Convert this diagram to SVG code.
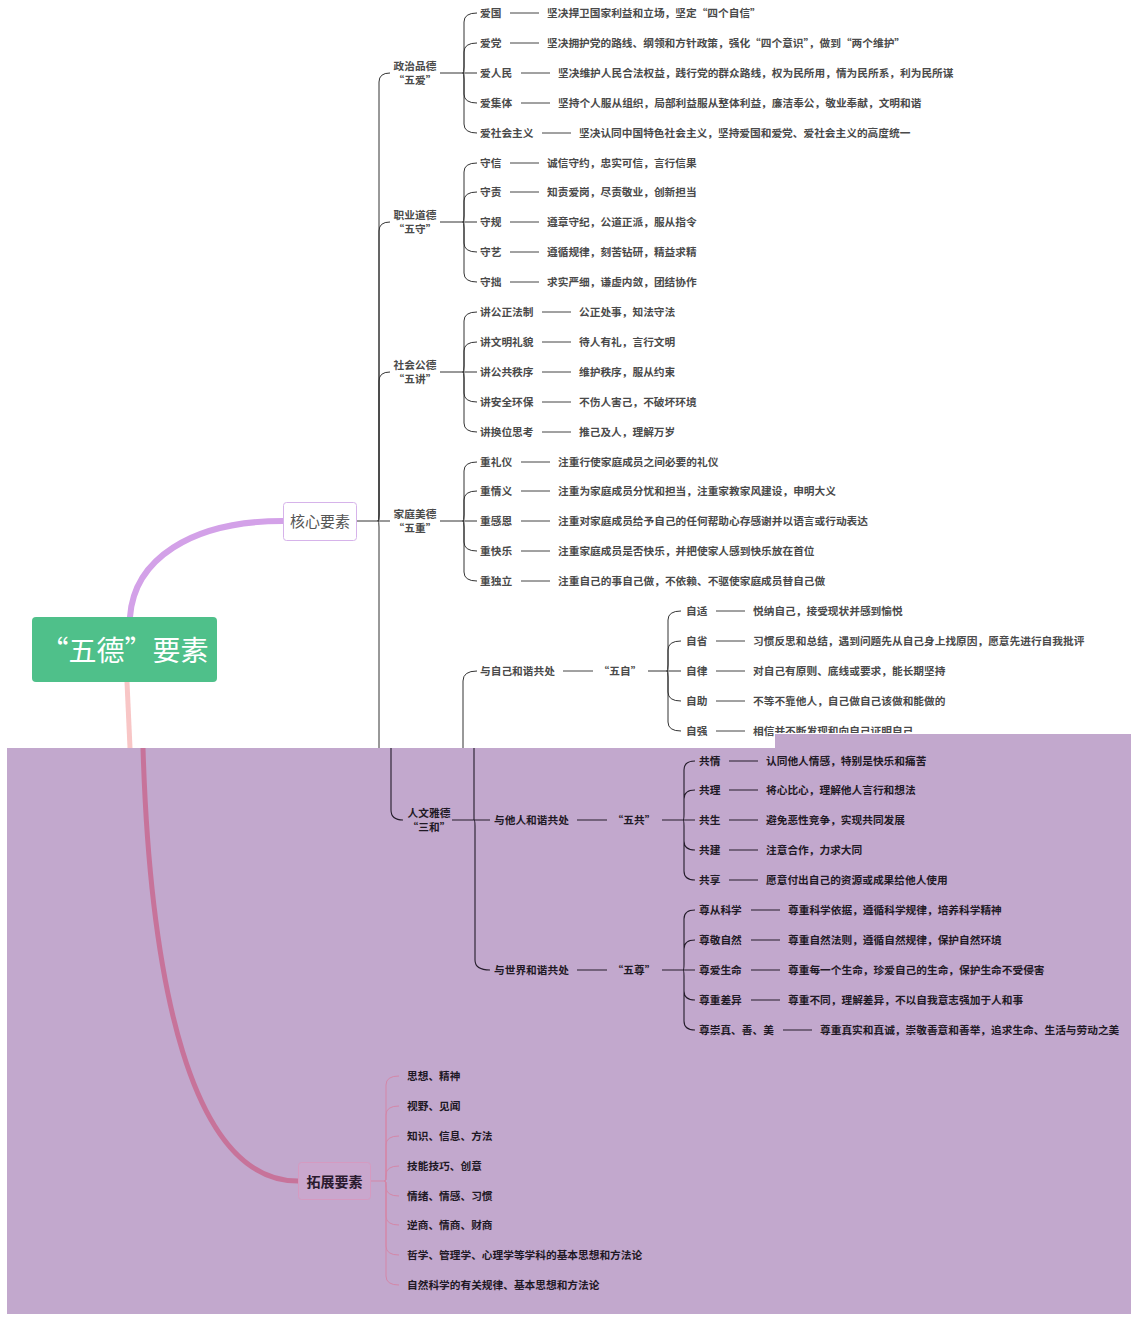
<svg xmlns="http://www.w3.org/2000/svg" width="1131" height="1318" viewBox="0 0 1131 1318">
<style>
.t{font-family:"Noto Sans CJK SC","Noto Sans CJK JP",sans-serif;font-size:10.7px;fill:#4a4a4a;dominant-baseline:central;font-weight:700}
.tp{font-family:"Noto Sans CJK SC","Noto Sans CJK JP",sans-serif;font-size:10.7px;fill:#1f1925;dominant-baseline:central;font-weight:700}
.m{text-anchor:middle}
.ln{fill:none;stroke:#333;stroke-width:1}
.lnp{fill:none;stroke:#241c2a;stroke-width:1.1}
.ds{stroke:#444;stroke-width:1}
.dsp{stroke:#241c2a;stroke-width:1.1}
.lnk{fill:none;stroke:#d487a8;stroke-width:1}
</style>
<defs>
<clipPath id="cut"><rect x="0" y="0" width="775" height="748"/><rect x="775" y="0" width="356" height="734"/></clipPath>
</defs>
<rect width="1131" height="1318" fill="#ffffff"/>
<g id="overlay">
<rect x="7" y="748" width="1124" height="566" fill="#c2a8cd"/>
<rect x="775" y="734" width="356" height="14" fill="#c2a8cd"/>
</g>
<g id="connectors">
<path d="M130 617 C134 560 190 521 283 521" fill="none" stroke="#d3a1e8" stroke-width="6" stroke-linecap="round"/>
<path d="M127 682 C128 705 129 725 130 748" fill="none" stroke="#f8c6c6" stroke-width="5"/>
<path d="M143 748 C150 980 190 1181 298 1181" fill="none" stroke="#c7739a" stroke-width="5"/>
<path class="ln" d="M356 521 L378 521 M378 521 Q379 521 379 515 L379 82 Q379 73 390 73 M378 521 Q379 521 379 515 L379 231 Q379 222 390 222 M378 521 Q379 521 379 515 L379 381 Q379 372 390 372 M378 521 L390 521 M378 521 Q379 521 379 527 L379 748"/>
<path class="ln" d="M440 73 L463 73 M463 73 Q464 73 464 67 L464 22 Q464 13 477 13 M463 73 Q464 73 464 67 L464 52 Q464 43 477 43 M463 73 L477 73 M463 73 Q464 73 464 79 L464 94 Q464 103 477 103 M463 73 Q464 73 464 79 L464 124 Q464 133 477 133"/>
<path class="ln" d="M440 222 L463 222 M463 222 Q464 222 464 216 L464 172 Q464 163 477 163 M463 222 Q464 222 464 216 L464 201 Q464 192 477 192 M463 222 L477 222 M463 222 Q464 222 464 228 L464 243 Q464 252 477 252 M463 222 Q464 222 464 228 L464 273 Q464 282 477 282"/>
<path class="ln" d="M440 372 L463 372 M463 372 Q464 372 464 366 L464 321 Q464 312 477 312 M463 372 Q464 372 464 366 L464 351 Q464 342 477 342 M463 372 L477 372 M463 372 Q464 372 464 378 L464 393 Q464 402 477 402 M463 372 Q464 372 464 378 L464 423 Q464 432 477 432"/>
<path class="ln" d="M440 521 L463 521 M463 521 Q464 521 464 515 L464 471 Q464 462 477 462 M463 521 Q464 521 464 515 L464 500 Q464 491 477 491 M463 521 L477 521 M463 521 Q464 521 464 527 L464 542 Q464 551 477 551 M463 521 Q464 521 464 527 L464 572 Q464 581 477 581"/>
<path class="ln" d="M463 748 L463 681 Q463 671 477 671"/>
<path class="ln" d="M648 671 L667 671 M667 671 Q668 671 668 665 L668 620 Q668 611 681 611 M667 671 Q668 671 668 665 L668 650 Q668 641 681 641 M667 671 L681 671 M667 671 Q668 671 668 677 L668 692 Q668 701 681 701 M667 671 Q668 671 668 677 L668 722 Q668 731 681 731"/>
<path class="lnp" d="M391 748 L391 810 Q391 820 403 820"/>
<path class="lnp" d="M452 820 L490 820 M474 748 L474 820 M474 820 Q475 820 475 826 L475 960 Q475 970 490 970"/>
<path class="lnp" d="M662 820 L683 820 M683 820 Q684 820 684 814 L684 770 Q684 761 695 761 M683 820 Q684 820 684 814 L684 799 Q684 790 695 790 M683 820 L695 820 M683 820 Q684 820 684 826 L684 841 Q684 850 695 850 M683 820 Q684 820 684 826 L684 871 Q684 880 695 880"/>
<path class="lnp" d="M662 970 L683 970 M683 970 Q684 970 684 964 L684 919 Q684 910 695 910 M683 970 Q684 970 684 964 L684 949 Q684 940 695 940 M683 970 L695 970 M683 970 Q684 970 684 976 L684 991 Q684 1000 695 1000 M683 970 Q684 970 684 976 L684 1021 Q684 1030 695 1030"/>
<path class="lnk" d="M370 1181 L385 1181 M385 1181 Q386 1181 386 1175 L386 1085 Q386 1076 399 1076 M385 1181 Q386 1181 386 1175 L386 1115 Q386 1106 399 1106 M385 1181 Q386 1181 386 1175 L386 1145 Q386 1136 399 1136 M385 1181 Q386 1181 386 1175 Q386 1166 399 1166 M385 1181 Q386 1181 386 1187 Q386 1196 399 1196 M385 1181 Q386 1181 386 1187 L386 1216 Q386 1225 399 1225 M385 1181 Q386 1181 386 1187 L386 1246 Q386 1255 399 1255 M385 1181 Q386 1181 386 1187 L386 1276 Q386 1285 399 1285"/>
<path class="ds" d="M510 13 H539 M510 43 H539 M521 73 H550 M521 103 H550 M542 133 H571 M510 163 H539 M510 192 H539 M510 222 H539 M510 252 H539 M510 282 H539 M542 312 H571 M542 342 H571 M542 372 H571 M542 402 H571 M542 432 H571 M521 462 H550 M521 491 H550 M521 521 H550 M521 551 H550 M521 581 H550 M563 671 H593 M716 611 H745 M716 641 H745 M716 671 H745 M716 701 H745 M716 731 H745"/>
<path class="dsp" d="M577 820 H607 M577 970 H607 M729 761 H758 M729 790 H758 M729 820 H758 M729 850 H758 M729 880 H758 M751 910 H780 M751 940 H780 M751 970 H780 M751 1000 H780 M783 1030 H812"/>
</g>
<g id="root">
<rect x="32" y="617" width="185" height="65" rx="4" fill="#4fc08a"/>
<text x="124.5" y="649" font-family="Noto Sans CJK SC, Noto Sans CJK JP, sans-serif" font-size="28" fill="#ffffff" text-anchor="middle" dominant-baseline="central">“五德”要素</text>
</g>
<g id="core">
<rect x="283.5" y="502.5" width="73" height="38" rx="3" fill="#ffffff" stroke="#d6b3ea" stroke-width="1"/>
<text x="320" y="520.5" font-family="Noto Sans CJK SC, Noto Sans CJK JP, sans-serif" font-size="15" fill="#555555" text-anchor="middle" dominant-baseline="central">核心要素</text>
</g>
<g id="ext">
<rect x="298.5" y="1162.5" width="72" height="37" rx="3" fill="#c9a7cd" stroke="#d59ac0" stroke-width="1"/>
<text x="334.5" y="1180.5" font-family="Noto Sans CJK SC, Noto Sans CJK JP, sans-serif" font-size="14" font-weight="700" fill="#2a1a2e" text-anchor="middle" dominant-baseline="central">拓展要素</text>
</g>
<g id="cat-zhengzhi" transform="translate(0,-1)">
<text class="t m" x="415" y="66">政治品德</text><text class="t m" x="415" y="80">“五爱”</text>
<text class="t" x="480" y="13">爱国</text><text class="t" x="547" y="13">坚决捍卫国家利益和立场，坚定“四个自信”</text>
<text class="t" x="480" y="43">爱党</text><text class="t" x="547" y="43">坚决拥护党的路线、纲领和方针政策，强化“四个意识”，做到“两个维护”</text>
<text class="t" x="480" y="73">爱人民</text><text class="t" x="558" y="73">坚决维护人民合法权益，践行党的群众路线，权为民所用，情为民所系，利为民所谋</text>
<text class="t" x="480" y="103">爱集体</text><text class="t" x="558" y="103">坚持个人服从组织，局部利益服从整体利益，廉洁奉公，敬业奉献，文明和谐</text>
<text class="t" x="480" y="133">爱社会主义</text><text class="t" x="579" y="133">坚决认同中国特色社会主义，坚持爱国和爱党、爱社会主义的高度统一</text>
</g>
<g id="cat-zhiye" transform="translate(0,-1)">
<text class="t m" x="415" y="215">职业道德</text><text class="t m" x="415" y="229">“五守”</text>
<text class="t" x="480" y="163">守信</text><text class="t" x="547" y="163">诚信守约，忠实可信，言行信果</text>
<text class="t" x="480" y="192">守责</text><text class="t" x="547" y="192">知责爱岗，尽责敬业，创新担当</text>
<text class="t" x="480" y="222">守规</text><text class="t" x="547" y="222">遵章守纪，公道正派，服从指令</text>
<text class="t" x="480" y="252">守艺</text><text class="t" x="547" y="252">遵循规律，刻苦钻研，精益求精</text>
<text class="t" x="480" y="282">守拙</text><text class="t" x="547" y="282">求实严细，谦虚内敛，团结协作</text>
</g>
<g id="cat-shehui" transform="translate(0,-1)">
<text class="t m" x="415" y="365">社会公德</text><text class="t m" x="415" y="379">“五讲”</text>
<text class="t" x="480" y="312">讲公正法制</text><text class="t" x="579" y="312">公正处事，知法守法</text>
<text class="t" x="480" y="342">讲文明礼貌</text><text class="t" x="579" y="342">待人有礼，言行文明</text>
<text class="t" x="480" y="372">讲公共秩序</text><text class="t" x="579" y="372">维护秩序，服从约束</text>
<text class="t" x="480" y="402">讲安全环保</text><text class="t" x="579" y="402">不伤人害己，不破坏环境</text>
<text class="t" x="480" y="432">讲换位思考</text><text class="t" x="579" y="432">推己及人，理解万岁</text>
</g>
<g id="cat-jiating" transform="translate(0,-1)">
<text class="t m" x="415" y="514">家庭美德</text><text class="t m" x="415" y="528">“五重”</text>
<text class="t" x="480" y="462">重礼仪</text><text class="t" x="558" y="462">注重行使家庭成员之间必要的礼仪</text>
<text class="t" x="480" y="491">重情义</text><text class="t" x="558" y="491">注重为家庭成员分忧和担当，注重家教家风建设，申明大义</text>
<text class="t" x="480" y="521">重感恩</text><text class="t" x="558" y="521">注重对家庭成员给予自己的任何帮助心存感谢并以语言或行动表达</text>
<text class="t" x="480" y="551">重快乐</text><text class="t" x="558" y="551">注重家庭成员是否快乐，并把使家人感到快乐放在首位</text>
<text class="t" x="480" y="581">重独立</text><text class="t" x="558" y="581">注重自己的事自己做，不依赖、不驱使家庭成员替自己做</text>
</g>
<g id="sub-ziji" transform="translate(0,-1)">
<text class="t" x="480" y="671">与自己和谐共处</text><text class="t m" x="620" y="671">“五自”</text>
<text class="t" x="686" y="611">自适</text><text class="t" x="753" y="611">悦纳自己，接受现状并感到愉悦</text>
<text class="t" x="686" y="641">自省</text><text class="t" x="753" y="641">习惯反思和总结，遇到问题先从自己身上找原因，愿意先进行自我批评</text>
<text class="t" x="686" y="671">自律</text><text class="t" x="753" y="671">对自己有原则、底线或要求，能长期坚持</text>
<text class="t" x="686" y="701">自助</text><text class="t" x="753" y="701">不等不靠他人，自己做自己该做和能做的</text>
<text class="t" x="686" y="731">自强</text><text class="t" x="753" y="731" clip-path="url(#cut)">相信并不断发现和向自己证明自己</text>
</g>
<g id="cat-renwen" transform="translate(0,-1)">
<text class="tp m" x="429" y="813">人文雅德</text><text class="tp m" x="429" y="827">“三和”</text>
</g>
<g id="sub-taren" transform="translate(0,-1)">
<text class="tp" x="494" y="820">与他人和谐共处</text><text class="tp m" x="634" y="820">“五共”</text>
<text class="tp" x="699" y="761">共情</text><text class="tp" x="766" y="761">认同他人情感，特别是快乐和痛苦</text>
<text class="tp" x="699" y="790">共理</text><text class="tp" x="766" y="790">将心比心，理解他人言行和想法</text>
<text class="tp" x="699" y="820">共生</text><text class="tp" x="766" y="820">避免恶性竞争，实现共同发展</text>
<text class="tp" x="699" y="850">共建</text><text class="tp" x="766" y="850">注意合作，力求大同</text>
<text class="tp" x="699" y="880">共享</text><text class="tp" x="766" y="880">愿意付出自己的资源或成果给他人使用</text>
</g>
<g id="sub-shijie" transform="translate(0,-1)">
<text class="tp" x="494" y="970">与世界和谐共处</text><text class="tp m" x="634" y="970">“五尊”</text>
<text class="tp" x="699" y="910">尊从科学</text><text class="tp" x="788" y="910">尊重科学依据，遵循科学规律，培养科学精神</text>
<text class="tp" x="699" y="940">尊敬自然</text><text class="tp" x="788" y="940">尊重自然法则，遵循自然规律，保护自然环境</text>
<text class="tp" x="699" y="970">尊爱生命</text><text class="tp" x="788" y="970">尊重每一个生命，珍爱自己的生命，保护生命不受侵害</text>
<text class="tp" x="699" y="1000">尊重差异</text><text class="tp" x="788" y="1000">尊重不同，理解差异，不以自我意志强加于人和事</text>
<text class="tp" x="699" y="1030">尊崇真、善、美</text><text class="tp" x="820" y="1030">尊重真实和真诚，崇敬善意和善举，追求生命、生活与劳动之美</text>
</g>
<g id="ext-items" transform="translate(0,-1)">
<text class="tp" x="407" y="1076">思想、精神</text>
<text class="tp" x="407" y="1106">视野、见闻</text>
<text class="tp" x="407" y="1136">知识、信息、方法</text>
<text class="tp" x="407" y="1166">技能技巧、创意</text>
<text class="tp" x="407" y="1196">情绪、情感、习惯</text>
<text class="tp" x="407" y="1225">逆商、情商、财商</text>
<text class="tp" x="407" y="1255">哲学、管理学、心理学等学科的基本思想和方法论</text>
<text class="tp" x="407" y="1285">自然科学的有关规律、基本思想和方法论</text>
</g>
</svg>
